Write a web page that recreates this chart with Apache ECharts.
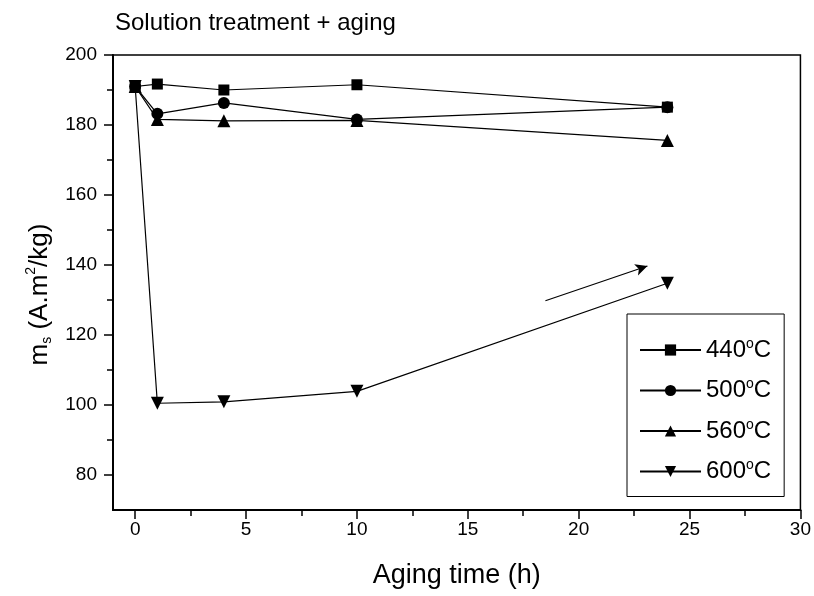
<!DOCTYPE html>
<html>
<head>
<meta charset="utf-8">
<script src="https://cdn.jsdelivr.net/npm/echarts@6/dist/echarts.min.js"></script>
<style>
  html, body { margin: 0; padding: 0; background: #fff; }
  #chart { width: 814px; height: 596px; }
</style>
</head>
<body>
<div id="chart"></div>
<script>
// aging time (h)
const times = [0, 1, 4, 10, 24]
// saturation magnetisation per aging temperature
const s440 = [191, 191.7, 190, 191.5, 185.1]
const s500 = [191, 183.2, 186.3, 181.6, 185.1]
const s560 = [191, 181.6, 181.2, 181.3, 175.6]
const s600 = [191, 100.5, 100.9, 103.9, 134.8]
const names = ['440°C', '500°C', '560°C', '600°C']
// tick values
const xMajor = [0, 5, 10, 15, 20, 25, 30]
const xMinor = [2.5, 7.5, 12.5, 17.5, 22.5, 27.5]
const yMajor = [80, 100, 120, 140, 160, 180, 200]
const yMinor = [90, 110, 130, 150, 170, 190]
// arrow annotation, data coords [start, end]
const arrow = [[18.5, 129.8], [23.1, 139.7]]

const font = 'Liberation Sans, Arial, sans-serif'
const pairs = arr => times.map((t, i) => [t, arr[i]])

function line(name, data, symbol, size, rotate) {
  return {
    name: name,
    type: 'line',
    data: pairs(data),
    symbol: symbol,
    symbolSize: size,
    symbolRotate: rotate || 0,
    itemStyle: { color: '#000' },
    lineStyle: { color: '#000', width: 1.2 },
    animation: false
  }
}

const chart = echarts.init(document.getElementById('chart'))
const series = [
  line(names[0], s440, 'rect', 11),
  line(names[1], s500, 'circle', 12),
  line(names[2], s560, 'triangle', 13),
  line(names[3], s600, 'triangle', 13, 180)
]
series[3].markLine = {
  silent: true,
  symbol: ['none', 'arrow'],
  symbolSize: [9, 12],
  label: { show: false },
  lineStyle: { color: '#000', width: 1.2, type: 'solid' },
  data: [[{ coord: arrow[0] }, { coord: arrow[1] }]]
}

chart.setOption({
  backgroundColor: '#fff',
  title: {
    text: 'Solution treatment + aging',
    left: 110,
    top: 6,
    textStyle: { fontFamily: font, fontSize: 24, fontWeight: 'normal', color: '#000' }
  },
  grid: {
    left: 113, right: 13, top: 55, bottom: 86,
    show: true, borderColor: '#000', borderWidth: 1.5
  },
  legend: {
    orient: 'vertical',
    left: 627,
    top: 314,
    padding: [23, 13, 12, 12],
    itemGap: 14.5,
    itemWidth: 61,
    itemHeight: 14,
    borderColor: '#000',
    borderWidth: 1,
    data: names,
    formatter: n => '{t|' + n.replace('°C', '') + '}{s|o}{t|C}',
    textStyle: {
      fontFamily: font,
      color: '#000',
      lineHeight: 26,
      rich: {
        t: { fontFamily: font, fontSize: 24, lineHeight: 26, color: '#000' },
        s: { fontFamily: font, fontSize: 14, verticalAlign: 'top', lineHeight: 22, color: '#000' }
      }
    }
  },
  xAxis: [
    {
      type: 'value', min: -1, max: 30,
      splitLine: { show: false },
      axisLine: { onZero: false, lineStyle: { color: '#000', width: 2 } },
      axisTick: { customValues: xMajor, length: 9, lineStyle: { color: '#000', width: 1.5 } },
      axisLabel: { customValues: xMajor, margin: 10, fontFamily: font, fontSize: 19, color: '#000' },
      name: 'Aging time (h)',
      nameLocation: 'middle',
      nameGap: 52,
      nameTextStyle: { fontFamily: font, fontSize: 27, color: '#000' }
    },
    {
      type: 'value', min: -1, max: 30, position: 'bottom',
      splitLine: { show: false },
      axisLine: { show: false, onZero: false },
      axisTick: { customValues: xMinor, length: 6, lineStyle: { color: '#000', width: 1.5 } },
      axisLabel: { show: false }
    }
  ],
  yAxis: [
    {
      type: 'value', min: 70, max: 200,
      splitLine: { show: false },
      axisLine: { show: true, onZero: false, lineStyle: { color: '#000', width: 2 } },
      axisTick: { show: true, customValues: yMajor, length: 9, lineStyle: { color: '#000', width: 1.5 } },
      axisLabel: { customValues: yMajor, margin: 16, fontFamily: font, fontSize: 19, color: '#000' },
      name: '{a|m}{b|s}{a| (A.m}{c|2}{a|/kg)}',
      nameLocation: 'middle',
      nameGap: 58,
      nameTextStyle: {
        color: '#000',
        padding: [0, 24, 0, 0],
        rich: {
          a: { fontFamily: font, fontSize: 26, color: '#000', lineHeight: 30 },
          b: { fontFamily: font, fontSize: 14, color: '#000', verticalAlign: 'bottom', lineHeight: 30 },
          c: { fontFamily: font, fontSize: 14, color: '#000', verticalAlign: 'top', lineHeight: 30 }
        }
      }
    },
    {
      type: 'value', min: 70, max: 200, position: 'left',
      splitLine: { show: false },
      axisLine: { show: false, onZero: false },
      axisTick: { show: true, customValues: yMinor, length: 6, lineStyle: { color: '#000', width: 1.5 } },
      axisLabel: { show: false }
    }
  ],
  series: series
})
</script>
</body>
</html>
